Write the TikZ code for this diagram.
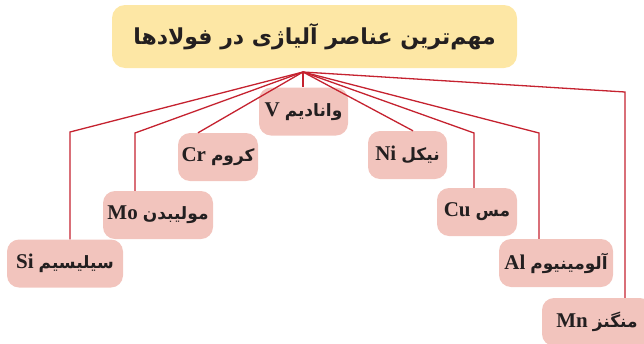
\documentclass[tikz,border=0pt]{standalone}
\usepackage{fontspec}
\TeXXeTstate=1
\newfontfamily\fa[Script=Arabic]{DejaVu Sans}
\newfontfamily\lat{Liberation Serif}
\definecolor{titleyellow}{HTML}{FDE7A5}
\definecolor{boxpink}{HTML}{F2C4BD}
\definecolor{linkred}{HTML}{C5222F}
\definecolor{inkdark}{HTML}{231F20}
\newcommand\elname[2]{{\lat\bfseries\fontsize{21}{24}\selectfont #1}\hspace{5pt}{\fa\bfseries\fontsize{17}{24}\selectfont\beginR #2\endR}}
\tikzset{
  titlebox/.style={rectangle, rounded corners=13pt, fill=titleyellow, text=inkdark, inner sep=0pt},
  elem/.style={rectangle, rounded corners=12pt, fill=boxpink, text=inkdark, minimum height=48pt, inner sep=0pt},
  link/.style={draw=linkred, line width=1.3pt, line join=miter},
}
\begin{document}
\begin{tikzpicture}[x=1pt,y=-1pt]
\useasboundingbox (0,0) rectangle (644,343);
\node[titlebox, minimum width=405pt, minimum height=63pt] (title) at (314.5,36.5)
  {\fa\bfseries\fontsize{22}{26}\selectfont\beginR مهم‌ترین عناصر آلیاژی در فولادها\endR};
\coordinate (hub) at (303,72);
\node[elem, minimum width=89pt]  (V)  at (303.5,111.5) {\elname{V}{وانادیم}};
\node[elem, minimum width=80pt]  (Cr) at (218,157)   {\elname{Cr}{کروم}};
\node[elem, minimum width=110pt] (Mo) at (158,215)   {\elname{Mo}{مولیبدن}};
\node[elem, minimum width=116pt] (Si) at (65,263.5)  {\elname{Si}{سیلیسیم}};
\node[elem, minimum width=79pt]  (Ni) at (407.5,155) {\elname{Ni}{نیکل}};
\node[elem, minimum width=80pt]  (Cu) at (477,212)   {\elname{Cu}{مس}};
\node[elem, minimum width=114pt] (Al) at (556,263)   {\elname{Al}{آلومینیوم}};
\node[elem, minimum width=110pt] (Mn) at (597,322)   {\elname{Mn}{منگنز}};
\coordinate (cCr) at (198,131);
\coordinate (bMo) at (135,133);
\coordinate (bSi) at (70,132);
\coordinate (cNi) at (413,130);
\coordinate (bCu) at (474,133);
\coordinate (bAl) at (539,133);
\coordinate (bMn) at (625,92);
\draw[link] (hub) -- (hub |- V.north);
\draw[link] (hub) -- (cCr |- Cr.north);
\draw[link] (hub) -- (bMo) -- (bMo |- Mo.north);
\draw[link] (hub) -- (bSi) -- (bSi |- Si.north);
\draw[link] (hub) -- (cNi |- Ni.north);
\draw[link] (hub) -- (bCu) -- (bCu |- Cu.north);
\draw[link] (hub) -- (bAl) -- (bAl |- Al.north);
\draw[link] (hub) -- (bMn) -- (bMn |- Mn.north);
\end{tikzpicture}
\end{document}
